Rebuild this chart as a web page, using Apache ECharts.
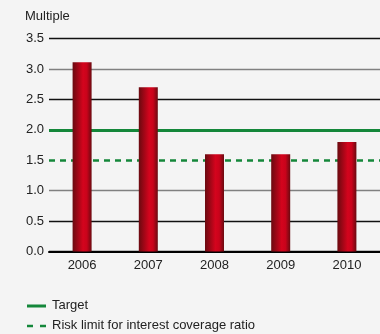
<!DOCTYPE html>
<html><head><meta charset="utf-8">
<script src="https://cdn.jsdelivr.net/npm/echarts@6/dist/echarts.min.js"></script>
<style>html,body{margin:0;padding:0;background:#f4f4f4}#c{width:380px;height:334px}</style>
</head><body><div id="c"></div>
<script>
const categories = ['2006','2007','2008','2009','2010'];
const coverage = [3.11, 2.70, 1.60, 1.60, 1.80];
const targetValue = 2.0;
const riskLimitValue = 1.5;
const yTicks = [0, 0.5, 1.0, 1.5, 2.0, 2.5, 3.0, 3.5];
const legendNames = ['Target', 'Risk limit for interest coverage ratio'];

const green = '#14873a';
const font = 'Liberation Sans, Arial, sans-serif';
const txt = '#222';
const chart = echarts.init(document.getElementById('c'), null, {renderer:'canvas'});

function legendItem(i, y, dashed) {
  return [
    {type:'line', shape:{x1:27, y1:y, x2:46, y2:y},
     style:{stroke:green, lineWidth: dashed ? 2.5 : 3, lineDash: dashed ? [6,7] : null}},
    {type:'text', left:52, top:y-7,
     style:{text: legendNames[i], font: '13px ' + font, fill: txt}}
  ];
}

chart.setOption({
  backgroundColor: '#f4f4f4',
  animation: false,
  title: {text: 'Multiple', left: 20, top: 5, textStyle: {fontFamily: font, fontSize: 13, fontWeight: 'normal', color: txt}},
  grid: {left: 49, right: -4, top: 38.5, bottom: 82.5, containLabel: false},
  xAxis: {
    type: 'category', data: categories,
    axisLine: {lineStyle: {color: '#000', width: 2}},
    axisTick: {show: false},
    axisLabel: {fontFamily: font, fontSize: 13, color: txt, margin: 7}
  },
  yAxis: {
    type: 'value', min: 0, max: 3.5, interval: 0.5,
    axisLine: {show: false}, axisTick: {show: false},
    axisLabel: {fontFamily: font, fontSize: 13, color: txt, margin: 5,
      formatter: v => yTicks.includes(v) ? v.toFixed(1) : ''},
    splitLine: {lineStyle: {width: 1.3, color: ['#111','#111','#808080','rgba(0,0,0,0)','rgba(0,0,0,0)','#111','#808080','#111']}}
  },
  graphic: [].concat(legendItem(0, 306, false), legendItem(1, 326, true)),
  series: [
    {
      type: 'bar', data: coverage, barWidth: 19, z: 5,
      itemStyle: {color: new echarts.graphic.LinearGradient(0,0,1,0,[
        {offset:0, color:'#6a0a10'},{offset:0.55, color:'#d4041d'},{offset:0.75, color:'#c9031b'},{offset:1, color:'#6a0a10'}])},
      markLine: {silent: true, symbol: 'none', label: {show: false}, z: 1,
        data: [
          {yAxis: targetValue, lineStyle: {color: green, width: 3, type: 'solid'}},
          {yAxis: riskLimitValue, lineStyle: {color: green, width: 2.5, type: [6,5]}}
        ]}
    }
  ]
});
</script></body></html>
